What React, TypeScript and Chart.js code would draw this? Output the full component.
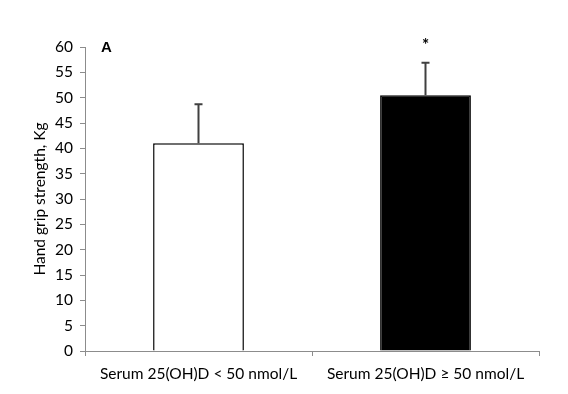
import React, { useEffect, useRef } from "react";
import { Chart, registerables } from "chart.js";

Chart.register(...registerables);

const categories = ["Serum 25(OH)D < 50 nmol/L", "Serum 25(OH)D \u2265 50 nmol/L"];
const means = [41.0, 50.5];
const errors = [7.7, 6.4];
const significance = ["", "*"];
const barFill = ["#ffffff", "#000000"];
const yTitle = "Hand grip strength, Kg";
const panelLabel = "A";

const FONT = "Lato, 'Open Sans', sans-serif";
const FS = 15.5;

const errorPlugin = {
  id: "errorBars",
  afterDatasetsDraw(chart: any) {
    const { ctx, scales } = chart;
    const meta = chart.getDatasetMeta(0);
    const y = scales.y;
    ctx.save();
    meta.data.forEach((bar: any, i: number) => {
      const x = bar.x;
      const yTop = y.getPixelForValue(means[i] + errors[i]);
      const yBase = y.getPixelForValue(means[i]);
      ctx.strokeStyle = "#404040";
      ctx.lineWidth = 2;
      ctx.beginPath();
      ctx.moveTo(x, yBase);
      ctx.lineTo(x, yTop);
      ctx.moveTo(x - 4, yTop);
      ctx.lineTo(x + 4, yTop);
      ctx.stroke();
      if (significance[i]) {
        ctx.fillStyle = "#000";
        ctx.font = "bold 17px " + FONT;
        ctx.textAlign = "center";
        ctx.textBaseline = "middle";
        ctx.fillText(significance[i], x, yTop - 17);
      }
    });
    ctx.fillStyle = "#000";
    ctx.font = "bold 15px 'Liberation Sans', Arial, sans-serif";
    ctx.textAlign = "left";
    ctx.textBaseline = "middle";
    ctx.fillText(panelLabel, chart.chartArea.left + 16, chart.chartArea.top + 1);
    ctx.restore();
  },
};

export default function App() {
  const ref = useRef<HTMLCanvasElement>(null);
  useEffect(() => {
    if (!ref.current) return;
    const chart = new Chart(ref.current, {
      type: "bar",
      data: {
        labels: categories,
        datasets: [
          {
            data: means,
            backgroundColor: barFill,
            borderColor: "#000000",
            borderWidth: 1.5,
            borderSkipped: "bottom",
            barPercentage: 0.4,
            categoryPercentage: 1,
          },
        ],
      },
      options: {
        animation: false,
        responsive: false,
        maintainAspectRatio: false,
        layout: { padding: { top: 47, right: 29, left: 0, bottom: 0 } },
        plugins: { legend: { display: false }, tooltip: { enabled: false } },
        scales: {
          x: {
            afterFit(scale: any) {
              scale.height = 43;
            },
            grid: {
              display: true,
              offset: true,
              drawOnChartArea: false,
              drawTicks: true,
              tickLength: 5,
              color: "#8c8c8c",
            },
            border: { display: true, color: "#8c8c8c", width: 1 },
            ticks: {
              color: "#000",
              font: { family: FONT, size: FS },
              padding: 9,
              maxRotation: 0,
            },
          },
          y: {
            min: 0,
            max: 60,
            afterFit(scale: any) {
              scale.width = 85;
            },
            grid: {
              display: true,
              drawOnChartArea: false,
              drawTicks: true,
              tickLength: 5,
              color: "#8c8c8c",
            },
            border: { display: true, color: "#8c8c8c", width: 1 },
            ticks: {
              stepSize: 5,
              color: "#000",
              font: { family: FONT, size: FS },
              padding: 7,
            },
            title: {
              display: true,
              text: yTitle,
              color: "#000",
              font: { family: FONT, size: FS },
              padding: { top: 31, bottom: 0 },
            },
          },
        },
      },
      plugins: [errorPlugin],
    });
    return () => chart.destroy();
  }, []);
  return (
    <div style={{ position: "fixed", left: 0, top: 0, width: 568, height: 394, background: "#fff" }}>
      <canvas ref={ref} width={568} height={394} style={{ width: 568, height: 394 }} />
    </div>
  );
}
